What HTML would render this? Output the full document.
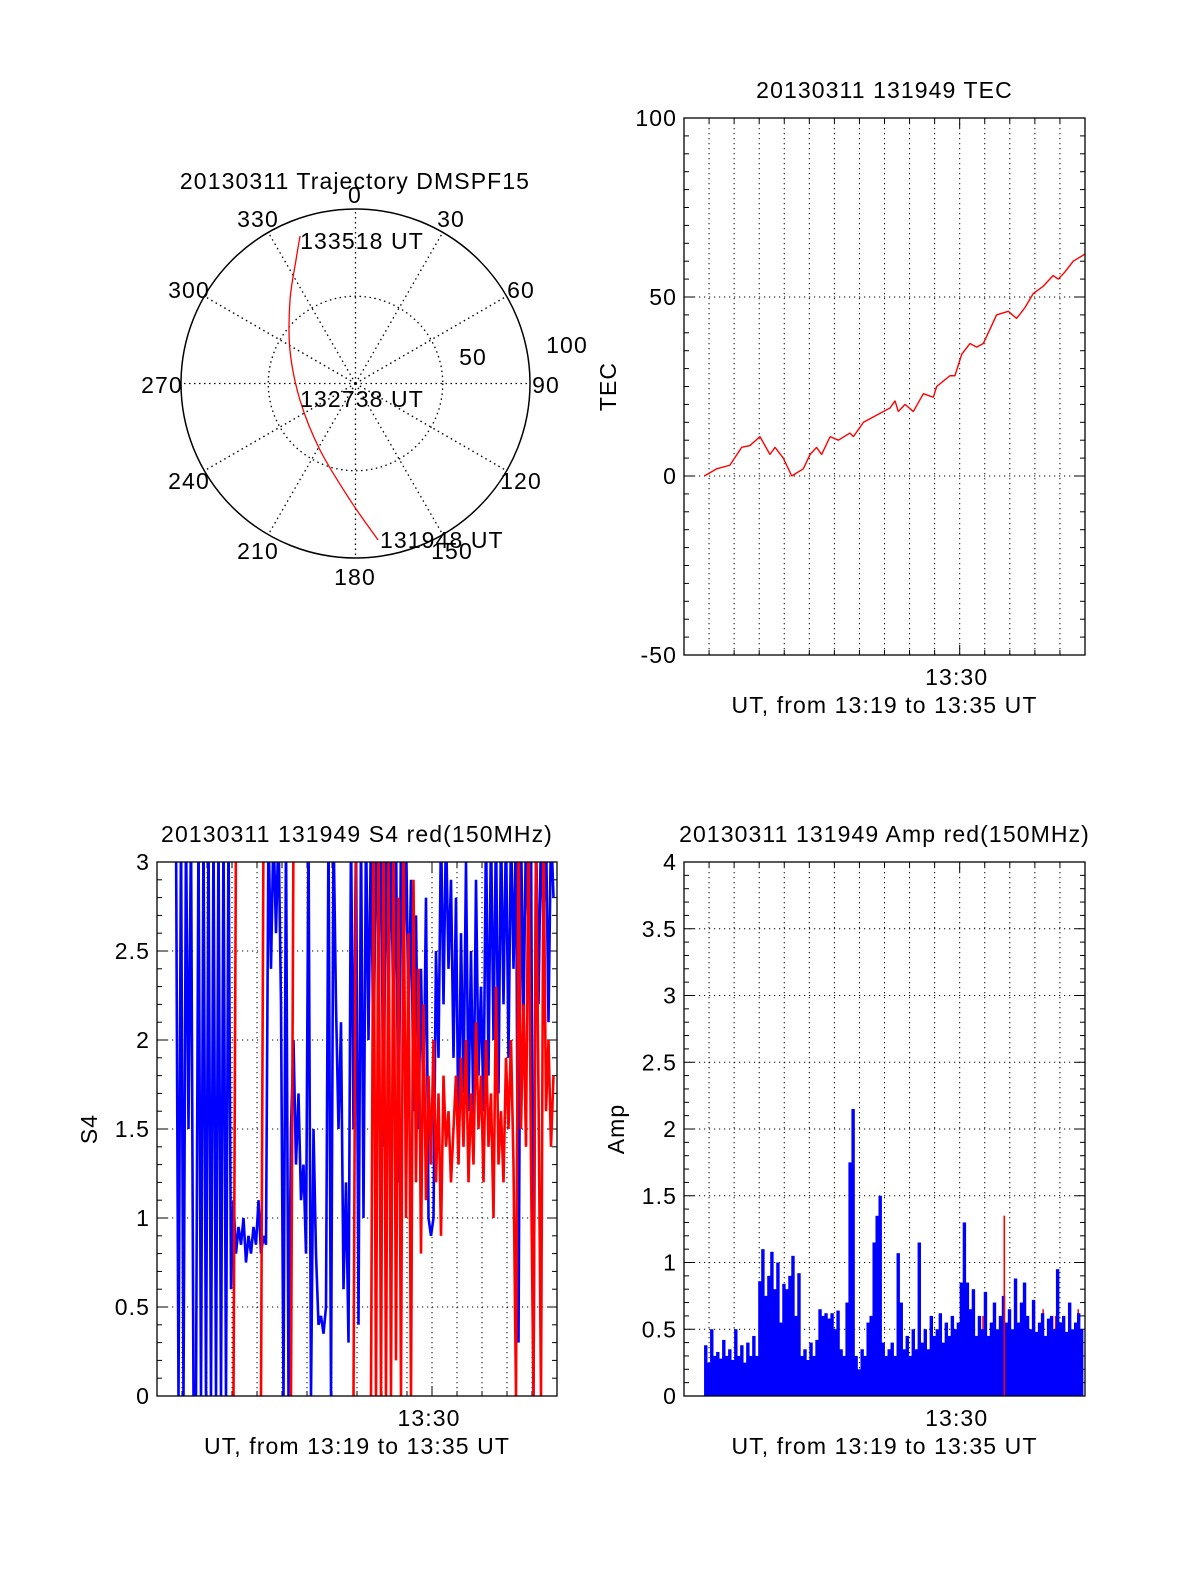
<!DOCTYPE html>
<html><head><meta charset="utf-8">
<style>
html,body{margin:0;padding:0;background:#fff;}
svg{display:block;font-family:"Liberation Sans",sans-serif;}
svg text{letter-spacing:1.1px;}
</style></head>
<body>
<svg id="fig" width="1200" height="1575" viewBox="0 0 1200 1575" xmlns="http://www.w3.org/2000/svg"></svg>
<script>
// ---------- DATA ----------
const tecTimes = [0.81,1.30,1.83,2.30,2.63,3.03,3.43,3.63,3.96,4.30,4.76,5.03,5.29,5.49,5.83,6.16,6.62,6.76,7.16,7.69,8.22,8.42,8.55,8.82,9.15,9.55,9.95,10.08,10.61,10.81,11.08,11.41,11.68,11.94,12.21,12.47,12.94,13.27,13.60,13.94,14.33,14.73,14.93,15.20,15.53,16.0];
const tecValues = [0,2,3,8,8.5,11,6,8,5,0,2,6,8,6,11,10,12,11,15,17,19,21,18,20,18,23,22,25,28,28,34,37,36,37,41,45,46,44,47,51,53,56,55,57,60,62];
const tecTicks = [-50,0,50,100];

const ampStart = 0.8;
const ampStep = 0.12;
const ampBlue = [0.38,0.25,0.5,0.3,0.33,0.28,0.42,0.3,0.35,0.27,0.5,0.3,0.38,0.25,0.4,0.3,0.45,0.3,
0.86,1.1,0.75,0.9,1.08,0.8,1.0,0.55,0.84,0.8,0.9,1.05,0.6,0.92,
0.3,0.35,0.27,0.4,0.3,0.42,
0.65,0.6,0.62,0.58,0.62,0.5,0.64,
0.35,0.3,0.7,
1.75,2.15,
0.3,0.2,0.35,0.3,0.55,0.6,
1.15,1.35,1.5,
0.4,0.3,0.35,0.4,0.3,
1.07,0.7,
0.35,0.45,0.3,0.5,0.35,
1.15,
0.4,0.5,0.35,0.6,0.45,0.5,0.62,0.4,0.55,0.45,0.6,0.5,0.55,0.85,
1.3,0.85,
0.65,0.8,0.45,0.6,0.5,0.78,0.45,0.55,0.7,0.5,0.6,0.75,0.55,0.65,0.5,0.88,0.55,0.7,0.85,0.6,0.5,0.72,0.48,0.55,0.62,0.45,0.58,0.6,0.5,0.95,0.55,0.6,0.48,0.7,0.5,0.55,0.62,0.5];
const ampRedTimes = [6.55,8.9,10.0,11.3,11.9,12.75,13.2,14.3,14.8,15.7];
const ampRedValues = [0.1,0.45,0.42,0.62,0.6,1.35,0.7,0.65,0.6,0.65];
const ampTicks = [0,0.5,1,1.5,2,2.5,3,3.5,4];

const s4Start = 0.76;
const s4Step = 0.1;
const s4Blue = [3.2,0,3.2,0,3.2,1.5,3.2,0,0,3.2,0,3.2,0,3.2,0,3.2,0,3.2,0,3.2,0,3.2,0.6,1.1,0.8,0.95,0.85,1.0,0.75,0.9,0.8,0.95,0.85,1.1,0.8,0.9,0.85,3.2,2.4,3.2,2.6,3.2,2.2,0,3.2,0,1.5,2.0,1.3,1.7,1.1,1.3,0.8,3.2,0,1.5,0.8,0.4,0.45,0.35,0.5,3.2,0,3.2,2.2,1.5,2.1,0.6,1.2,0.3,3.2,1.5,3.2,0.4,3.2,1.0,3.2,2.0,3.2,1.8,3.2,2.5,3.2,1.4,3.2,2.2,3.2,2.0,3.2,1.2,3.2,2.3,3.2,2.1,2.9,1.6,2.7,1.5,2.4,1.6,2.8,1.0,0.9,1.0,2.5,1.9,3.2,2.2,3.2,2.4,2.9,1.9,2.8,1.4,2.6,1.7,3.0,1.6,2.5,1.5,2.9,1.8,2.3,1.6,3.2,1.8,3.2,2.0,3.2,1.7,3.2,2.2,3.2,1.9,3.2,2.4,3.2,0.3,3.2,2.1,3.2,2.5,3.2,0,3.2,2.2,3.2,2.6,3.2,2.1,3.2,2.8];
const s4Red = [null,null,null,null,null,null,null,null,null,null,null,null,null,null,null,null,null,null,null,null,null,null,null,0,3.2,null,null,null,null,null,null,null,null,null,0,3.2,null,null,null,null,null,null,null,null,null,null,0,3.2,null,null,null,null,1.6,null,null,null,null,null,null,null,null,null,null,null,null,null,null,null,null,null,null,0,3.2,null,null,null,null,null,0,3.2,0,3.2,0,3.2,0,3.0,0,3.2,0.2,2.8,0,3.2,1.0,2.6,0,2.9,1.2,2.4,0.8,2.2,1.1,1.8,1.3,2.0,1.2,1.7,0.9,1.8,1.4,1.6,1.2,1.5,1.8,1.3,1.9,1.4,2.0,1.2,1.7,1.3,2.1,1.5,1.8,1.2,2.0,1.4,1.7,1.0,2.3,1.3,1.6,1.2,1.9,1.5,2.0,1.3,0,3.2,1.5,2.2,1.4,3.2,1.3,0,3.2,1.7,0,3.2,1.6,2.0,1.4,1.8];
const s4Ticks = [0,0.5,1,1.5,2,2.5,3];

const trajAz = [171.8,182.7,208.1,253.4,297.1,321.9,334.3,339.4];
const trajR = [90.6,66.8,43.2,33.2,42.2,60.8,78.6,90.3];
const polarAngles = [0,30,60,90,120,150,180,210,240,270,300,330];

// ---------- HELPERS ----------
const NS = "http://www.w3.org/2000/svg";
const svg = document.getElementById('fig');
function mk(tag, attrs, parent) {
  const el = document.createElementNS(NS, tag);
  for (const k in attrs) el.setAttribute(k, attrs[k]);
  (parent || svg).appendChild(el);
  return el;
}
function txt(s, x, y, anchor, parent) {
  const t = mk('text', {x: x, y: y, 'text-anchor': anchor || 'middle', 'font-size': 23, fill: '#000'}, parent);
  t.textContent = s;
  return t;
}

function makeAxes(name, L, R, T, B, ymin, ymax, majors, minorStep, title, ylabel, yLabelX) {
  const g = mk('g', {});
  
  
  const xs = m => L + (R - L) * m / 16;
  const ys = v => B - (B - T) * (v - ymin) / (ymax - ymin);
  for (let m = 1; m < 16; m++) {
    const gl = mk('line', {x1: xs(m), x2: xs(m), y1: T, y2: B, stroke: '#000', 'stroke-width': 1, 'stroke-dasharray': '1.2,3.8'}, g);
    
    
  }
  majors.forEach(v => {
    if (v > ymin && v < ymax) {
      const gl = mk('line', {x1: L, x2: R, y1: ys(v), y2: ys(v), stroke: '#000', 'stroke-width': 1, 'stroke-dasharray': '1.2,3.8'}, g);
      
      
    }
  });
  for (let v = ymin; v <= ymax + 1e-9; v += minorStep) {
    const isMaj = majors.some(M => Math.abs(M - v) < 1e-6);
    const len = isMaj ? 10 : 5;
    const a = mk('line', {x1: L, x2: L + len, y1: ys(v), y2: ys(v), stroke: '#000', 'stroke-width': 1}, g);
    
    
    const b = mk('line', {x1: R, x2: R - len, y1: ys(v), y2: ys(v), stroke: '#000', 'stroke-width': 1}, g);
    
    
  }
  for (let m = 1; m < 16; m++) {
    const len = m === 11 ? 10 : 5;
    const a = mk('line', {x1: xs(m), x2: xs(m), y1: B, y2: B - len, stroke: '#000', 'stroke-width': 1}, g);
    
    
    const b = mk('line', {x1: xs(m), x2: xs(m), y1: T, y2: T + len, stroke: '#000', 'stroke-width': 1}, g);
    
    
  }
  majors.forEach(v => {
    const t = txt(String(v), L - 7, ys(v) + 8, 'end', g);
    
    
  });
  const xl = txt('13:30', xs(11) - 3, B + 30, 'middle', g);
  
  
  const xt = txt('UT, from 13:19 to 13:35 UT', (L + R) / 2, B + 58, 'middle', g);
  
  
  const tt = txt(title, (L + R) / 2, T - 20, 'middle', g);
  
  
  const yt = txt(ylabel, 0, 0, 'middle', g);
  yt.setAttribute('transform', 'translate(' + yLabelX + ',' + ((T + B) / 2) + ') rotate(-90)');
  
  
  const cp = mk('clipPath', {id: 'clip-' + name}, g);
  mk('rect', {x: L, y: T, width: R - L, height: B - T}, cp);
  const dg = mk('g', {'clip-path': 'url(#clip-' + name + ')'}, g);
  
  
  return {g: g, dg: dg, xs: xs, ys: ys, frame: () => {
    const f = mk('rect', {x: L, y: T, width: R - L, height: B - T, fill: 'none', stroke: '#000', 'stroke-width': 1.3}, g);
    
    
  }};
}

function polylineFrom(times, vals, ax, color, parent, name, width) {
  let segs = [], cur = [];
  for (let i = 0; i < vals.length; i++) {
    if (vals[i] === null) { if (cur.length) segs.push(cur); cur = []; continue; }
    cur.push(ax.xs(times[i]).toFixed(2) + ',' + ax.ys(vals[i]).toFixed(2));
  }
  if (cur.length) segs.push(cur);
  segs.forEach(s => {
    if (s.length < 2) return;
    const p = mk('polyline', {points: s.join(' '), fill: 'none', stroke: color, 'stroke-width': width || 1.3, 'stroke-linejoin': 'bevel'}, parent);
    
    
  });
}

// ---------- TEC ----------
const tec = makeAxes('tec', 684, 1085, 118, 655, -50, 100, tecTicks, 5, '20130311 131949 TEC', 'TEC', 616);
polylineFrom(tecTimes, tecValues, tec, '#ff0000', tec.dg, 'tec-line', 1.4);
tec.frame();

// ---------- S4 ----------
const s4 = makeAxes('s4', 157, 557, 862, 1396, 0, 3, s4Ticks, 0.1, '20130311 131949 S4 red(150MHz)', 'S4', 97);
const s4T = s4Blue.map((v, i) => s4Start + i * s4Step);
polylineFrom(s4T, s4Blue, s4, '#0000ff', s4.dg, 's4-blue-line', 2.6);
polylineFrom(s4T, s4Red, s4, '#ff0000', s4.dg, 's4-red-line', 2.6);
s4.frame();

// ---------- AMP ----------
const amp = makeAxes('amp', 684, 1085, 862, 1396, 0, 4, ampTicks, 0.1, '20130311 131949 Amp red(150MHz)', 'Amp', 624);
const bw = amp.xs(ampStep) - amp.xs(0);
ampRedTimes.forEach((t, i) => {
  const r = mk('rect', {x: amp.xs(t), y: amp.ys(ampRedValues[i]), width: 1.5, height: amp.ys(0) - amp.ys(ampRedValues[i]), fill: '#ff0000'}, amp.dg);
  
  
});
ampBlue.forEach((v, i) => {
  const t = ampStart + i * ampStep;
  const r = mk('rect', {x: amp.xs(t), y: amp.ys(v), width: bw + 0.4, height: amp.ys(0) - amp.ys(v), fill: '#0000ff'}, amp.dg);
  
  
});
ampRedTimes.forEach((t, i) => {
  if (ampRedValues[i] > 1) {
    const r = mk('rect', {x: amp.xs(t), y: amp.ys(ampRedValues[i]), width: 1.5, height: amp.ys(0) - amp.ys(ampRedValues[i]), fill: '#ff0000'}, amp.dg);
    
    
  }
});
amp.frame();

// ---------- POLAR ----------
const cx = 355.5, cy = 383.5, R0 = 174.5;
const pg = mk('g', {});


const pr = v => R0 * v / 100;
const oc = mk('circle', {cx: cx, cy: cy, r: R0, fill: 'none', stroke: '#000', 'stroke-width': 1.5}, pg);


const ic = mk('circle', {cx: cx, cy: cy, r: pr(50), fill: 'none', stroke: '#000', 'stroke-width': 1.3, 'stroke-dasharray': '1.5,3.5'}, pg);


const labelPos = {0:[355,203],30:[451,227],60:[521,298],90:[546,393],120:[521,489],150:[452,559],180:[355,585],210:[258,559],240:[189,489],270:[162,393],300:[189,298],330:[258,227]};
polarAngles.forEach(a => {
  const rad = a * Math.PI / 180;
  const sp = mk('line', {x1: cx, y1: cy, x2: cx + R0 * Math.sin(rad), y2: cy - R0 * Math.cos(rad), stroke: '#000', 'stroke-width': 1.3, 'stroke-dasharray': '1.5,3.5'}, pg);
  
  
  const t = txt(String(a), labelPos[a][0], labelPos[a][1], 'middle', pg);
  
  
});
const r100 = txt('100', 567, 353, 'middle', pg);


const r50 = txt('50', 473, 365, 'middle', pg);


const ptitle = txt('20130311 Trajectory DMSPF15', 355, 189, 'middle', pg);


const tp = trajAz.map((a, i) => [cx + pr(trajR[i]) * Math.sin(a * Math.PI / 180), cy - pr(trajR[i]) * Math.cos(a * Math.PI / 180)]);
let d = 'M' + tp[0][0] + ',' + tp[0][1];
for (let i = 0; i < tp.length - 1; i++) {
  const p0 = tp[Math.max(0, i - 1)], p1 = tp[i], p2 = tp[i + 1], p3 = tp[Math.min(tp.length - 1, i + 2)];
  d += ' C' + (p1[0] + (p2[0] - p0[0]) / 6) + ',' + (p1[1] + (p2[1] - p0[1]) / 6) + ' ' + (p2[0] - (p3[0] - p1[0]) / 6) + ',' + (p2[1] - (p3[1] - p1[1]) / 6) + ' ' + p2[0] + ',' + p2[1];
}
const tr = mk('path', {d: d, fill: 'none', stroke: '#ff0000', 'stroke-width': 1.3}, pg);


const l1 = txt('131948 UT', 380, 548, 'start', pg);


const l2 = txt('132738 UT', 362, 407, 'middle', pg);


const l3 = txt('133518 UT', 362, 249, 'middle', pg);


</script>
</body></html>
